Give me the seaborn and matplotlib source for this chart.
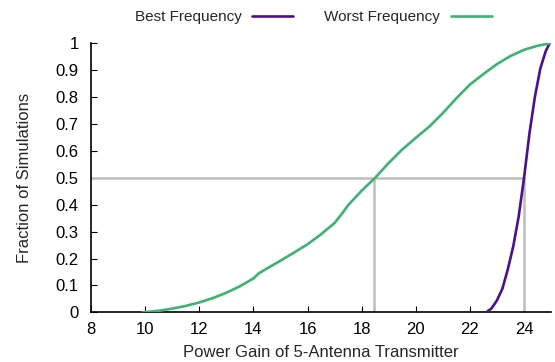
import matplotlib
matplotlib.use("Agg")
import matplotlib.pyplot as plt
import seaborn as sns
import pandas as pd

worst_x = [9.9, 10.5, 11.0, 11.5, 12.0, 12.5, 13.0, 13.5, 14.0, 14.2, 14.5, 15.0, 15.5, 16.0,
           16.5, 17.0, 17.3, 17.5, 18.0, 18.5, 19.0, 19.5, 20.0, 20.5, 21.0, 21.5, 22.0,
           22.5, 23.0, 23.5, 24.0, 24.5, 25.0]
worst_y = [0.0, 0.006, 0.014, 0.024, 0.037, 0.053, 0.073, 0.097, 0.126, 0.145, 0.163, 0.192,
           0.222, 0.253, 0.29, 0.332, 0.37, 0.398, 0.452, 0.50, 0.555, 0.605, 0.648, 0.69,
           0.74, 0.795, 0.846, 0.885, 0.922, 0.952, 0.975, 0.99, 1.0]

best_x = [22.6, 22.8, 23.0, 23.2, 23.4, 23.6, 23.8, 24.0, 24.2, 24.4, 24.6, 24.8, 24.95]
best_y = [0.0, 0.015, 0.045, 0.088, 0.16, 0.245, 0.355, 0.50, 0.665, 0.80, 0.905, 0.97, 1.0]

median_x = [18.45, 24.0]
median_level = 0.5

x_ticks = [8, 10, 12, 14, 16, 18, 20, 22, 24]
y_ticks = [0, 0.1, 0.2, 0.3, 0.4, 0.5, 0.6, 0.7, 0.8, 0.9, 1.0]
y_tick_labels = ["0", "0.1", "0.2", "0.3", "0.4", "0.5", "0.6", "0.7", "0.8", "0.9", "1"]

sns.set_theme(style="ticks")
plt.rcParams['font.family'] = ['Liberation Sans', 'DejaVu Sans']

df = pd.concat([
    pd.DataFrame({"x": best_x, "y": best_y, "series": "Best Frequency"}),
    pd.DataFrame({"x": worst_x, "y": worst_y, "series": "Worst Frequency"}),
])

fig = plt.figure(figsize=(5.55, 3.62), dpi=100)
ax = fig.add_axes([0.164, 0.137, 0.829, 0.744])

gray = "#bdbdbd"
ax.plot([8, max(median_x)], [median_level, median_level], color=gray, lw=1.8, zorder=1)
for mx in median_x:
    ax.plot([mx, mx], [0, median_level], color=gray, lw=1.8, zorder=1)

sns.lineplot(data=df, x="x", y="y", hue="series",
             palette={"Best Frequency": "#4b0f8f", "Worst Frequency": "#3cb371"},
             linewidth=1.9, ax=ax, zorder=3, legend=True, sort=False, estimator=None)

ax.set_xlim(8, 25)
ax.set_ylim(0, 1)
ax.set_xticks(x_ticks)
ax.set_yticks(y_ticks)
ax.set_yticklabels(y_tick_labels)
ax.tick_params(direction="in", length=4, width=0.8, labelsize=12, colors="black")
ax.tick_params(axis="x", pad=7)
ax.tick_params(axis="y", pad=9)
for s in ["top", "right"]:
    ax.spines[s].set_visible(False)
for s in ["left", "bottom"]:
    ax.spines[s].set_linewidth(1.2)
    ax.spines[s].set_color("black")

ax.set_xlabel("Power Gain of 5-Antenna Transmitter", fontsize=12, labelpad=6)
ax.set_ylabel("Fraction of Simulations", fontsize=12, labelpad=17)

handles, labels = ax.get_legend_handles_labels()
ax.legend(handles, labels, ncol=2, loc="center", bbox_to_anchor=(0.483, 1.095),
          frameon=False, markerfirst=False, fontsize=11, handlelength=2.7,
          columnspacing=2.0, handletextpad=0.7)

fig.savefig("out.png", dpi=100)
